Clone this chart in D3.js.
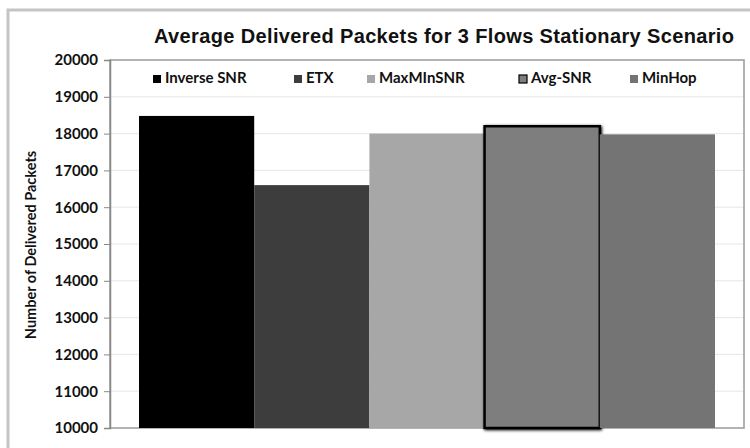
<!DOCTYPE html>
<html><head><meta charset="utf-8">
<script src="https://cdn.jsdelivr.net/npm/d3@7"></script>
<style>body{margin:0;background:#fff;} svg{display:block;}</style>
</head><body>
<svg id="c" width="750" height="448"></svg>
<script>
const series = ["Inverse SNR", "ETX", "MaxMInSNR", "Avg-SNR", "MinHop"];
const values = [18480, 16600, 18000, 18200, 17980];
const colors = ["#000000", "#3d3d3d", "#a7a7a7", "#7e7e7e", "#747474"];
const yTicks = [10000, 11000, 12000, 13000, 14000, 15000, 16000, 17000, 18000, 19000, 20000];
const legendX = [153, 294, 367, 519, 630];
const title = "Average Delivered Packets for 3 Flows Stationary Scenario";
const yTitle = "Number of Delivered Packets";

const svg = d3.select("#c");
const plot = {l: 110, r: 744, t: 60, b: 428};

// outer frame
svg.append("path").attr("d", "M8,460 L8,10 L760,10").attr("fill", "none")
  .attr("stroke", "#c4c4c4").attr("stroke-width", 3);

const y = d3.scaleLinear().domain([10000, 20000]).range([plot.b, plot.t]);
const x = d3.scaleBand().domain(series).range([139, 715]).padding(0);

// gridlines
svg.append("g").selectAll("line").data(yTicks.slice(1, -1)).join("line")
  .attr("x1", plot.l).attr("x2", plot.r)
  .attr("y1", d => y(d)).attr("y2", d => y(d))
  .attr("stroke", "#e6e6e6").attr("stroke-width", 1);

// plot area border
svg.append("rect").attr("x", plot.l).attr("y", plot.t)
  .attr("width", plot.r - plot.l).attr("height", plot.b - plot.t)
  .attr("fill", "none").attr("stroke", "#9a9a9a").attr("stroke-width", 1.5);

// shadow filter
const defs = svg.append("defs");
const f = defs.append("filter").attr("id", "sh").attr("x", "-10%").attr("y", "-10%").attr("width", "120%").attr("height", "120%");
f.append("feGaussianBlur").attr("in", "SourceAlpha").attr("stdDeviation", 1.5);
f.append("feOffset").attr("dx", 1).attr("dy", 1).attr("result", "b");
const m = f.append("feMerge"); m.append("feMergeNode").attr("in", "b"); m.append("feMergeNode").attr("in", "SourceGraphic");

// bars
svg.append("g").selectAll("rect").data(series).join("rect")
  .attr("x", d => x(d)).attr("width", x.bandwidth())
  .attr("y", (d, i) => y(values[i])).attr("height", (d, i) => y(10000) - y(values[i]))
  .attr("fill", (d, i) => colors[i])
  .attr("stroke", (d, i) => i === 3 ? "#000" : "none")
  .attr("stroke-width", (d, i) => i === 3 ? 2.5 : 0)
  .attr("filter", (d, i) => i === 3 ? "url(#sh)" : null);

// y axis
const ax = svg.append("g").attr("transform", `translate(${plot.l},0)`)
  .call(d3.axisLeft(y).tickValues(yTicks).tickSize(6).tickPadding(6).tickFormat(d3.format("d")));
ax.select(".domain").attr("stroke", "#888").attr("stroke-width", 1.5);
ax.selectAll(".tick line").attr("stroke", "#888");
ax.selectAll("text").attr("font-family", "Lato, sans-serif").attr("font-weight", "bold")
  .attr("font-size", 15).attr("fill", "#111");

// y title
svg.append("text").attr("transform", "translate(36,245) rotate(-90)")
  .attr("text-anchor", "middle").attr("font-family", "Lato, sans-serif").attr("font-weight", "bold")
  .attr("font-size", 14.5).attr("fill", "#111").text(yTitle);

// title
svg.append("text").attr("x", 444).attr("y", 43).attr("text-anchor", "middle")
  .attr("font-family", "Liberation Sans, Arial, sans-serif").attr("font-weight", "bold")
  .attr("font-size", 20).attr("textLength", 580).attr("lengthAdjust", "spacing")
  .attr("fill", "#111").text(title);

// legend
const lg = svg.append("g").selectAll("g").data(series).join("g")
  .attr("transform", (d, i) => `translate(${legendX[i]},83)`);
lg.append("rect").attr("x", 0).attr("y", -8).attr("width", 8).attr("height", 8)
  .attr("fill", (d, i) => colors[i])
  .attr("stroke", (d, i) => i === 3 ? "#000" : "none").attr("stroke-width", 1.2);
lg.append("text").attr("x", 12).attr("y", 0).attr("font-family", "Lato, sans-serif")
  .attr("font-weight", "bold").attr("font-size", 15).attr("fill", "#111").text(d => d);
</script>
</body></html>
